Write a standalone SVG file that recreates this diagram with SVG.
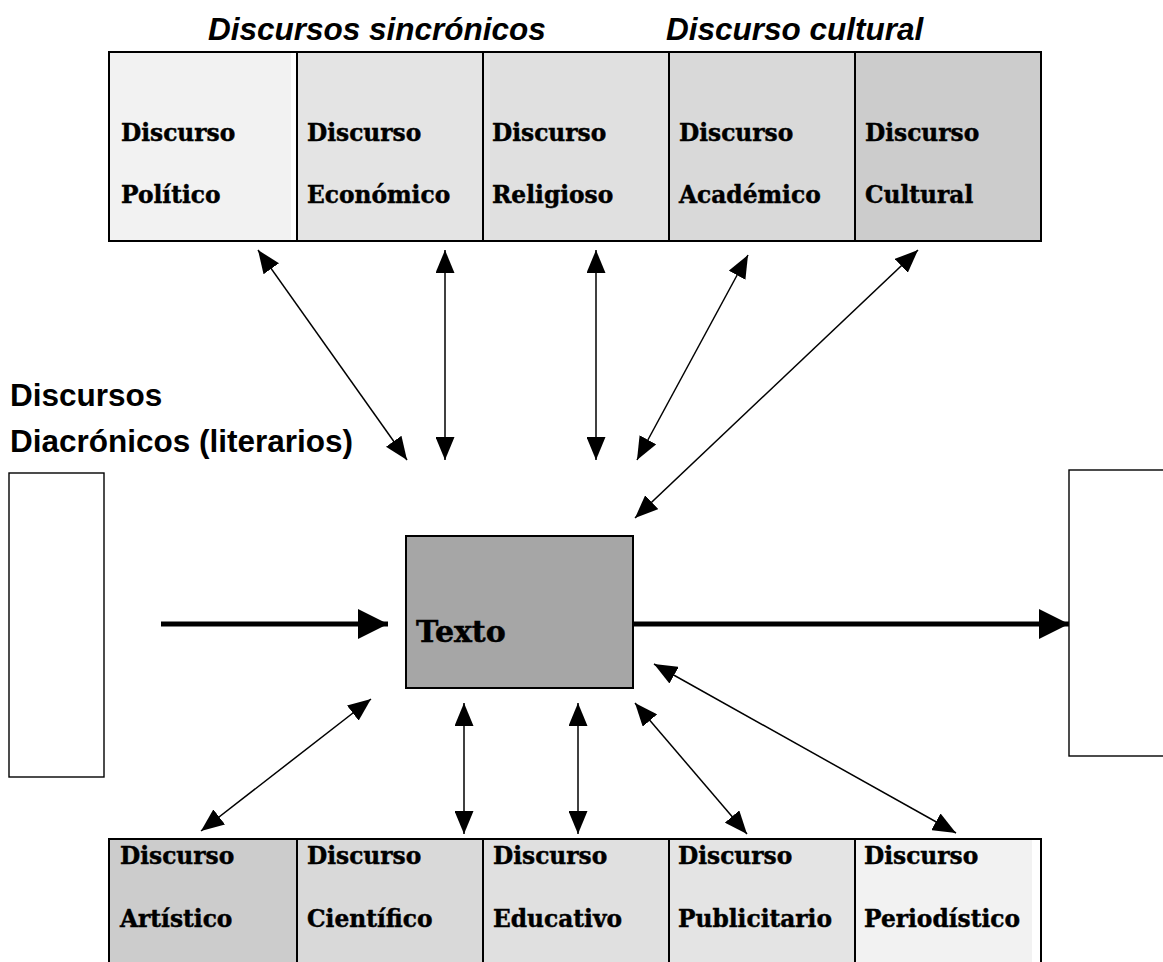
<svg xmlns="http://www.w3.org/2000/svg" width="1163" height="962" viewBox="0 0 1163 962">
<style>
.cell{stroke:none}
.grid{fill:none;stroke:#000;stroke-width:2}
.lbl{font-family:"DejaVu Serif","Liberation Serif",serif;font-weight:bold;font-size:23.3px;fill:#000;stroke:#000;stroke-width:0.45}
.ttl{font-family:"Liberation Sans",Arial,sans-serif;font-weight:bold;font-style:italic;font-size:31.5px;fill:#000}
.side{font-family:"Liberation Sans",Arial,sans-serif;font-weight:bold;font-size:31.5px;fill:#000}
.thin{stroke:#000;stroke-width:1.5;fill:none;marker-start:url(#ah);marker-end:url(#ah)}
.thick{stroke:#000;stroke-width:5;fill:none;marker-end:url(#bh)}
</style>
<defs>
<marker id="ah" markerUnits="userSpaceOnUse" viewBox="0 0 23 19" refX="23" refY="9.5" markerWidth="23" markerHeight="19" orient="auto-start-reverse"><path d="M0,0 L23,9.5 L0,19 z" fill="#000"/></marker>
<marker id="bh" markerUnits="userSpaceOnUse" viewBox="0 0 30 30" refX="30" refY="15" markerWidth="30" markerHeight="30" orient="auto"><path d="M0,0 L30,15 L0,30 z" fill="#000"/></marker>
</defs>
<rect width="1163" height="962" fill="#fff"/>

<g id="titles">
<text class="ttl" x="208" y="40">Discursos sincrónicos</text>
<text class="ttl" x="666" y="40">Discurso cultural</text>
</g>

<g id="top-table">
<rect class="cell" x="109" y="52" width="188" height="189" fill="#f2f2f2"/>
<rect class="cell" x="291" y="52" width="6" height="189" fill="#fff"/>
<rect class="cell" x="297" y="52" width="186" height="189" fill="#e4e4e4"/>
<rect class="cell" x="483" y="52" width="186" height="189" fill="#e0e0e0"/>
<rect class="cell" x="483" y="52" width="7" height="189" fill="#e6e6e6"/>
<rect class="cell" x="669" y="52" width="186" height="189" fill="#d9d9d9"/>
<rect class="cell" x="855" y="52" width="186" height="189" fill="#cccccc"/>
<rect class="grid" x="109" y="52" width="932" height="189"/>
<line class="grid" x1="297" y1="52" x2="297" y2="241"/>
<line class="grid" x1="483" y1="52" x2="483" y2="241"/>
<line class="grid" x1="669" y1="52" x2="669" y2="241"/>
<line class="grid" x1="855" y1="52" x2="855" y2="241"/>
</g>
<g id="n-politico"><text class="lbl" x="121" y="141">Discurso</text><text class="lbl" x="121" y="203">Político</text></g>
<g id="n-economico"><text class="lbl" x="307" y="141">Discurso</text><text class="lbl" x="307" y="203">Económico</text></g>
<g id="n-religioso"><text class="lbl" x="492" y="141">Discurso</text><text class="lbl" x="492" y="203">Religioso</text></g>
<g id="n-academico"><text class="lbl" x="679" y="141">Discurso</text><text class="lbl" x="679" y="203">Académico</text></g>
<g id="n-cultural"><text class="lbl" x="865" y="141">Discurso</text><text class="lbl" x="865" y="203">Cultural</text></g>

<g id="n-diacronicos">
<text class="side" x="10" y="406">Discursos</text>
<text class="side" x="10" y="452">Diacrónicos (literarios)</text>
<rect x="9" y="473" width="95" height="304" fill="#fff" stroke="#000" stroke-width="1.4"/>
</g>

<g id="n-texto">
<rect x="406" y="536" width="227" height="152" fill="#a6a6a6" stroke="#000" stroke-width="2"/>
<text x="416" y="642" style="font-family:'DejaVu Serif','Liberation Serif',serif;font-weight:bold;font-size:30px;stroke:#000;stroke-width:0.5">Texto</text>
</g>

<g id="n-right">
<rect x="1069" y="470" width="110" height="286" fill="#fff" stroke="#000" stroke-width="1.4"/>
</g>

<g id="bottom-table">
<rect class="cell" x="109" y="839" width="188" height="130" fill="#cccccc"/>
<rect class="cell" x="297" y="839" width="186" height="130" fill="#d9d9d9"/>
<rect class="cell" x="483" y="839" width="186" height="130" fill="#e0e0e0"/>
<rect class="cell" x="669" y="839" width="186" height="130" fill="#e4e4e4"/>
<rect class="cell" x="855" y="839" width="186" height="130" fill="#f2f2f2"/>
<rect class="cell" x="1032" y="839" width="9" height="130" fill="#fff"/>
<rect class="grid" x="109" y="839" width="932" height="130"/>
<line class="grid" x1="297" y1="839" x2="297" y2="969"/>
<line class="grid" x1="483" y1="839" x2="483" y2="969"/>
<line class="grid" x1="669" y1="839" x2="669" y2="969"/>
<line class="grid" x1="855" y1="839" x2="855" y2="969"/>
</g>
<g id="n-artistico"><text class="lbl" x="120" y="864">Discurso</text><text class="lbl" x="120" y="927">Artístico</text></g>
<g id="n-cientifico"><text class="lbl" x="307" y="864">Discurso</text><text class="lbl" x="307" y="927">Científico</text></g>
<g id="n-educativo"><text class="lbl" x="493" y="864">Discurso</text><text class="lbl" x="493" y="927">Educativo</text></g>
<g id="n-publicitario"><text class="lbl" x="678" y="864">Discurso</text><text class="lbl" x="678" y="927">Publicitario</text></g>
<g id="n-periodistico"><text class="lbl" x="864" y="864">Discurso</text><text class="lbl" x="864" y="927">Periodístico</text></g>

<g id="connectors">
<line class="thin" x1="258" y1="250" x2="407" y2="460"/>
<line class="thin" x1="445" y1="250" x2="445" y2="460"/>
<line class="thin" x1="596" y1="250" x2="596" y2="460"/>
<line class="thin" x1="748" y1="255" x2="637" y2="460"/>
<line class="thin" x1="918" y1="250" x2="635" y2="518"/>
<line class="thin" x1="371" y1="699" x2="201" y2="831"/>
<line class="thin" x1="464" y1="703" x2="464" y2="834"/>
<line class="thin" x1="578" y1="703" x2="578" y2="834"/>
<line class="thin" x1="635" y1="703" x2="747" y2="834"/>
<line class="thin" x1="654" y1="664" x2="956" y2="833"/>
<line class="thick" x1="161" y1="624" x2="388" y2="624"/>
<line class="thick" x1="634" y1="624" x2="1069" y2="624"/>
</g>
</svg>
